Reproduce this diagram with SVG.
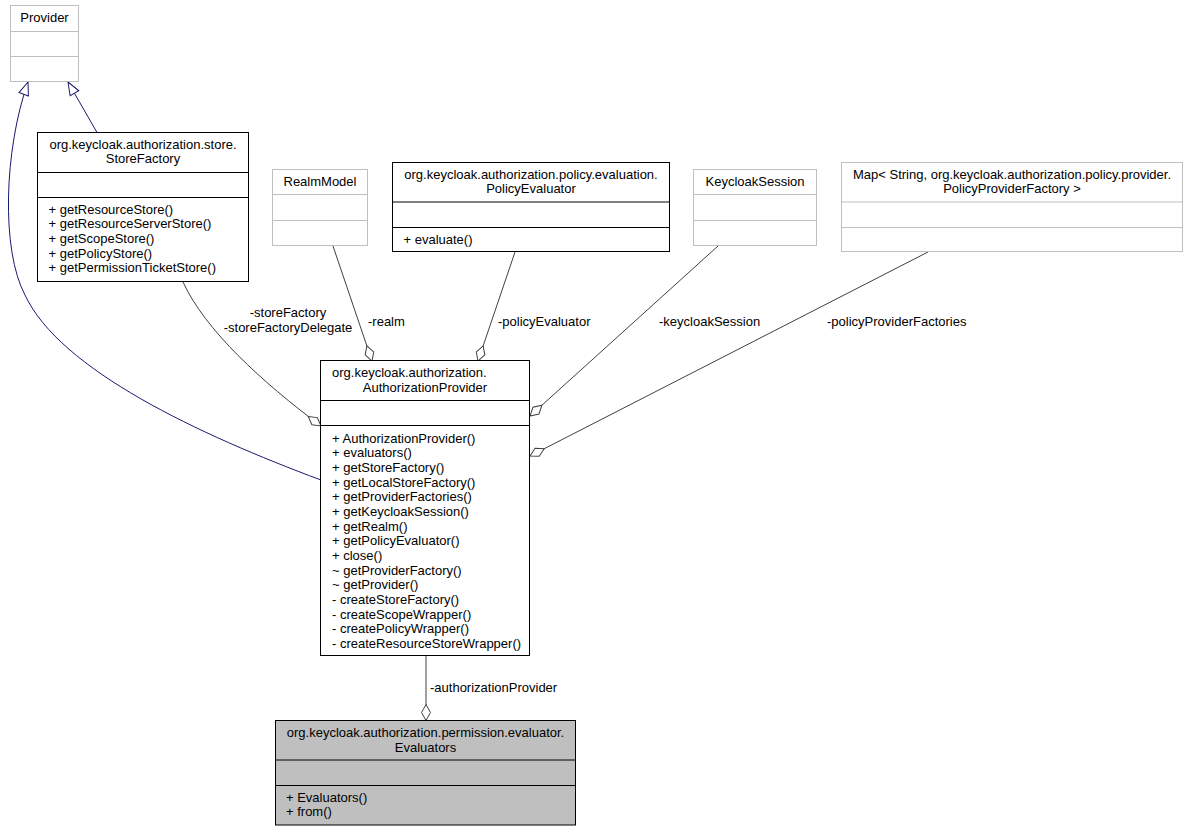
<svg xmlns="http://www.w3.org/2000/svg" width="1189" height="832" viewBox="0 0 1189 832">
<style>
text{font-family:"Liberation Sans",Arial,Helvetica,sans-serif;font-size:13px;fill:#000}
.c{text-anchor:middle}
.box{fill:#fff;stroke:#000;stroke-width:1}
.gbox{fill:#fff;stroke:#bfbfbf;stroke-width:1}
.sel{fill:#bfbfbf;stroke:#000;stroke-width:1}
.div{stroke:#000;stroke-width:1}
.gdiv{stroke:#bfbfbf;stroke-width:1}
.agg{fill:none;stroke:#404040;stroke-width:1;marker-end:url(#diamond)}
.inh{fill:none;stroke:#191970;stroke-width:1;marker-end:url(#tri)}
</style>
<defs>
<marker id="diamond" markerUnits="userSpaceOnUse" viewBox="-1 -1 18 12" markerWidth="18" markerHeight="12" refX="16" refY="5" orient="auto">
<path d="M0,5 L8,0.5 L16,5 L8,9.5 Z" fill="#fff" stroke="#404040" stroke-width="1"/>
</marker>
<marker id="tri" markerUnits="userSpaceOnUse" viewBox="-1 -1 15 13" markerWidth="15" markerHeight="13" refX="13" refY="5.5" orient="auto">
<path d="M0,0.5 L13,5.5 L0,10.5 Z" fill="#fff" stroke="#191970" stroke-width="1"/>
</marker>
</defs>
<rect width="1189" height="832" fill="#fff"/>

<g id="connectors">
<path class="inh" d="M97,132.5 L68,82"/>
<path class="inh" d="M321,480 C200,435 60,370 25,295 C1,250 4,150 28,82"/>
<path class="agg" d="M183,282 C205,330 262,382 321,426"/>
<path class="agg" d="M333,246 L372,361"/>
<path class="agg" d="M515,252 L478,361"/>
<path class="agg" d="M718,246 L530,416"/>
<path class="agg" d="M928,252 L530,456"/>
<path class="agg" d="M426,655.5 L426,720.5"/>
<text class="c" x="288" y="317">-storeFactory</text>
<text class="c" x="288" y="332">-storeFactoryDelegate</text>
<text x="368" y="325.5">-realm</text>
<text x="498" y="325.5">-policyEvaluator</text>
<text x="659" y="325.5">-keycloakSession</text>
<text x="827" y="325.5">-policyProviderFactories</text>
<text x="430" y="691.5">-authorizationProvider</text>
</g>

<g id="Provider">
<rect class="gbox" x="10.5" y="5.5" width="68" height="76"/>
<line class="gdiv" x1="10.5" y1="31.5" x2="78.5" y2="31.5"/>
<line class="gdiv" x1="10.5" y1="56.5" x2="78.5" y2="56.5"/>
<text class="c" x="44.5" y="22">Provider</text>
</g>

<g id="StoreFactory">
<rect class="box" x="37.5" y="132.5" width="211" height="149"/>
<line class="div" x1="37.5" y1="172.5" x2="248.5" y2="172.5"/>
<line class="div" x1="37.5" y1="197.5" x2="248.5" y2="197.5"/>
<text class="c" x="143" y="149">org.keycloak.authorization.store.</text>
<text class="c" x="143" y="163">StoreFactory</text>
<text x="48.5" y="213.5">+ getResourceStore()</text>
<text x="48.5" y="228.2">+ getResourceServerStore()</text>
<text x="48.5" y="242.8">+ getScopeStore()</text>
<text x="48.5" y="257.5">+ getPolicyStore()</text>
<text x="48.5" y="272.2">+ getPermissionTicketStore()</text>
</g>

<g id="RealmModel">
<rect class="gbox" x="272.5" y="169.5" width="95" height="76"/>
<line class="gdiv" x1="272.5" y1="194.5" x2="367.5" y2="194.5"/>
<line class="gdiv" x1="272.5" y1="220.5" x2="367.5" y2="220.5"/>
<text class="c" x="320" y="186">RealmModel</text>
</g>

<g id="PolicyEvaluator">
<rect class="box" x="392.5" y="162.5" width="277" height="89"/>
<line class="div" x1="392.5" y1="202" x2="669.5" y2="202"/>
<line class="div" x1="392.5" y1="227.5" x2="669.5" y2="227.5"/>
<text class="c" x="531" y="179">org.keycloak.authorization.policy.evaluation.</text>
<text class="c" x="531" y="193">PolicyEvaluator</text>
<text x="403.5" y="243.5">+ evaluate()</text>
</g>

<g id="KeycloakSession">
<rect class="gbox" x="693.5" y="169.5" width="123" height="76"/>
<line class="gdiv" x1="693.5" y1="194.5" x2="816.5" y2="194.5"/>
<line class="gdiv" x1="693.5" y1="220.5" x2="816.5" y2="220.5"/>
<text class="c" x="755" y="186">KeycloakSession</text>
</g>

<g id="PolicyProviderFactoryMap">
<rect class="gbox" x="841.5" y="162.5" width="341" height="89"/>
<line class="gdiv" x1="841.5" y1="202" x2="1182.5" y2="202"/>
<line class="gdiv" x1="841.5" y1="227.5" x2="1182.5" y2="227.5"/>
<text class="c" x="1012" y="179">Map&lt; String, org.keycloak.authorization.policy.provider.</text>
<text class="c" x="1012" y="193">PolicyProviderFactory &gt;</text>
</g>

<g id="AuthorizationProvider">
<rect class="box" x="320.5" y="360.5" width="209" height="295"/>
<line class="div" x1="320.5" y1="400.5" x2="529.5" y2="400.5"/>
<line class="div" x1="320.5" y1="425.5" x2="529.5" y2="425.5"/>
<text x="332" y="377">org.keycloak.authorization.</text>
<text class="c" x="425" y="391.5">AuthorizationProvider</text>
<text x="332" y="442.5">+ AuthorizationProvider()</text>
<text x="332" y="457.2">+ evaluators()</text>
<text x="332" y="471.8">+ getStoreFactory()</text>
<text x="332" y="486.5">+ getLocalStoreFactory()</text>
<text x="332" y="501.2">+ getProviderFactories()</text>
<text x="332" y="515.8">+ getKeycloakSession()</text>
<text x="332" y="530.5">+ getRealm()</text>
<text x="332" y="545.2">+ getPolicyEvaluator()</text>
<text x="332" y="559.9">+ close()</text>
<text x="332" y="574.5">~ getProviderFactory()</text>
<text x="332" y="589.2">~ getProvider()</text>
<text x="332" y="603.9">- createStoreFactory()</text>
<text x="332" y="618.5">- createScopeWrapper()</text>
<text x="332" y="633.2">- createPolicyWrapper()</text>
<text x="332" y="647.9">- createResourceStoreWrapper()</text>
</g>

<g id="Evaluators">
<rect class="sel" x="275.5" y="720.5" width="300" height="104.5"/>
<line class="div" x1="275.5" y1="760" x2="575.5" y2="760"/>
<line class="div" x1="275.5" y1="785.5" x2="575.5" y2="785.5"/>
<text class="c" x="425.5" y="737">org.keycloak.authorization.permission.evaluator.</text>
<text class="c" x="425.5" y="751.5">Evaluators</text>
<text x="286" y="801.5">+ Evaluators()</text>
<text x="286" y="816">+ from()</text>
</g>
</svg>
